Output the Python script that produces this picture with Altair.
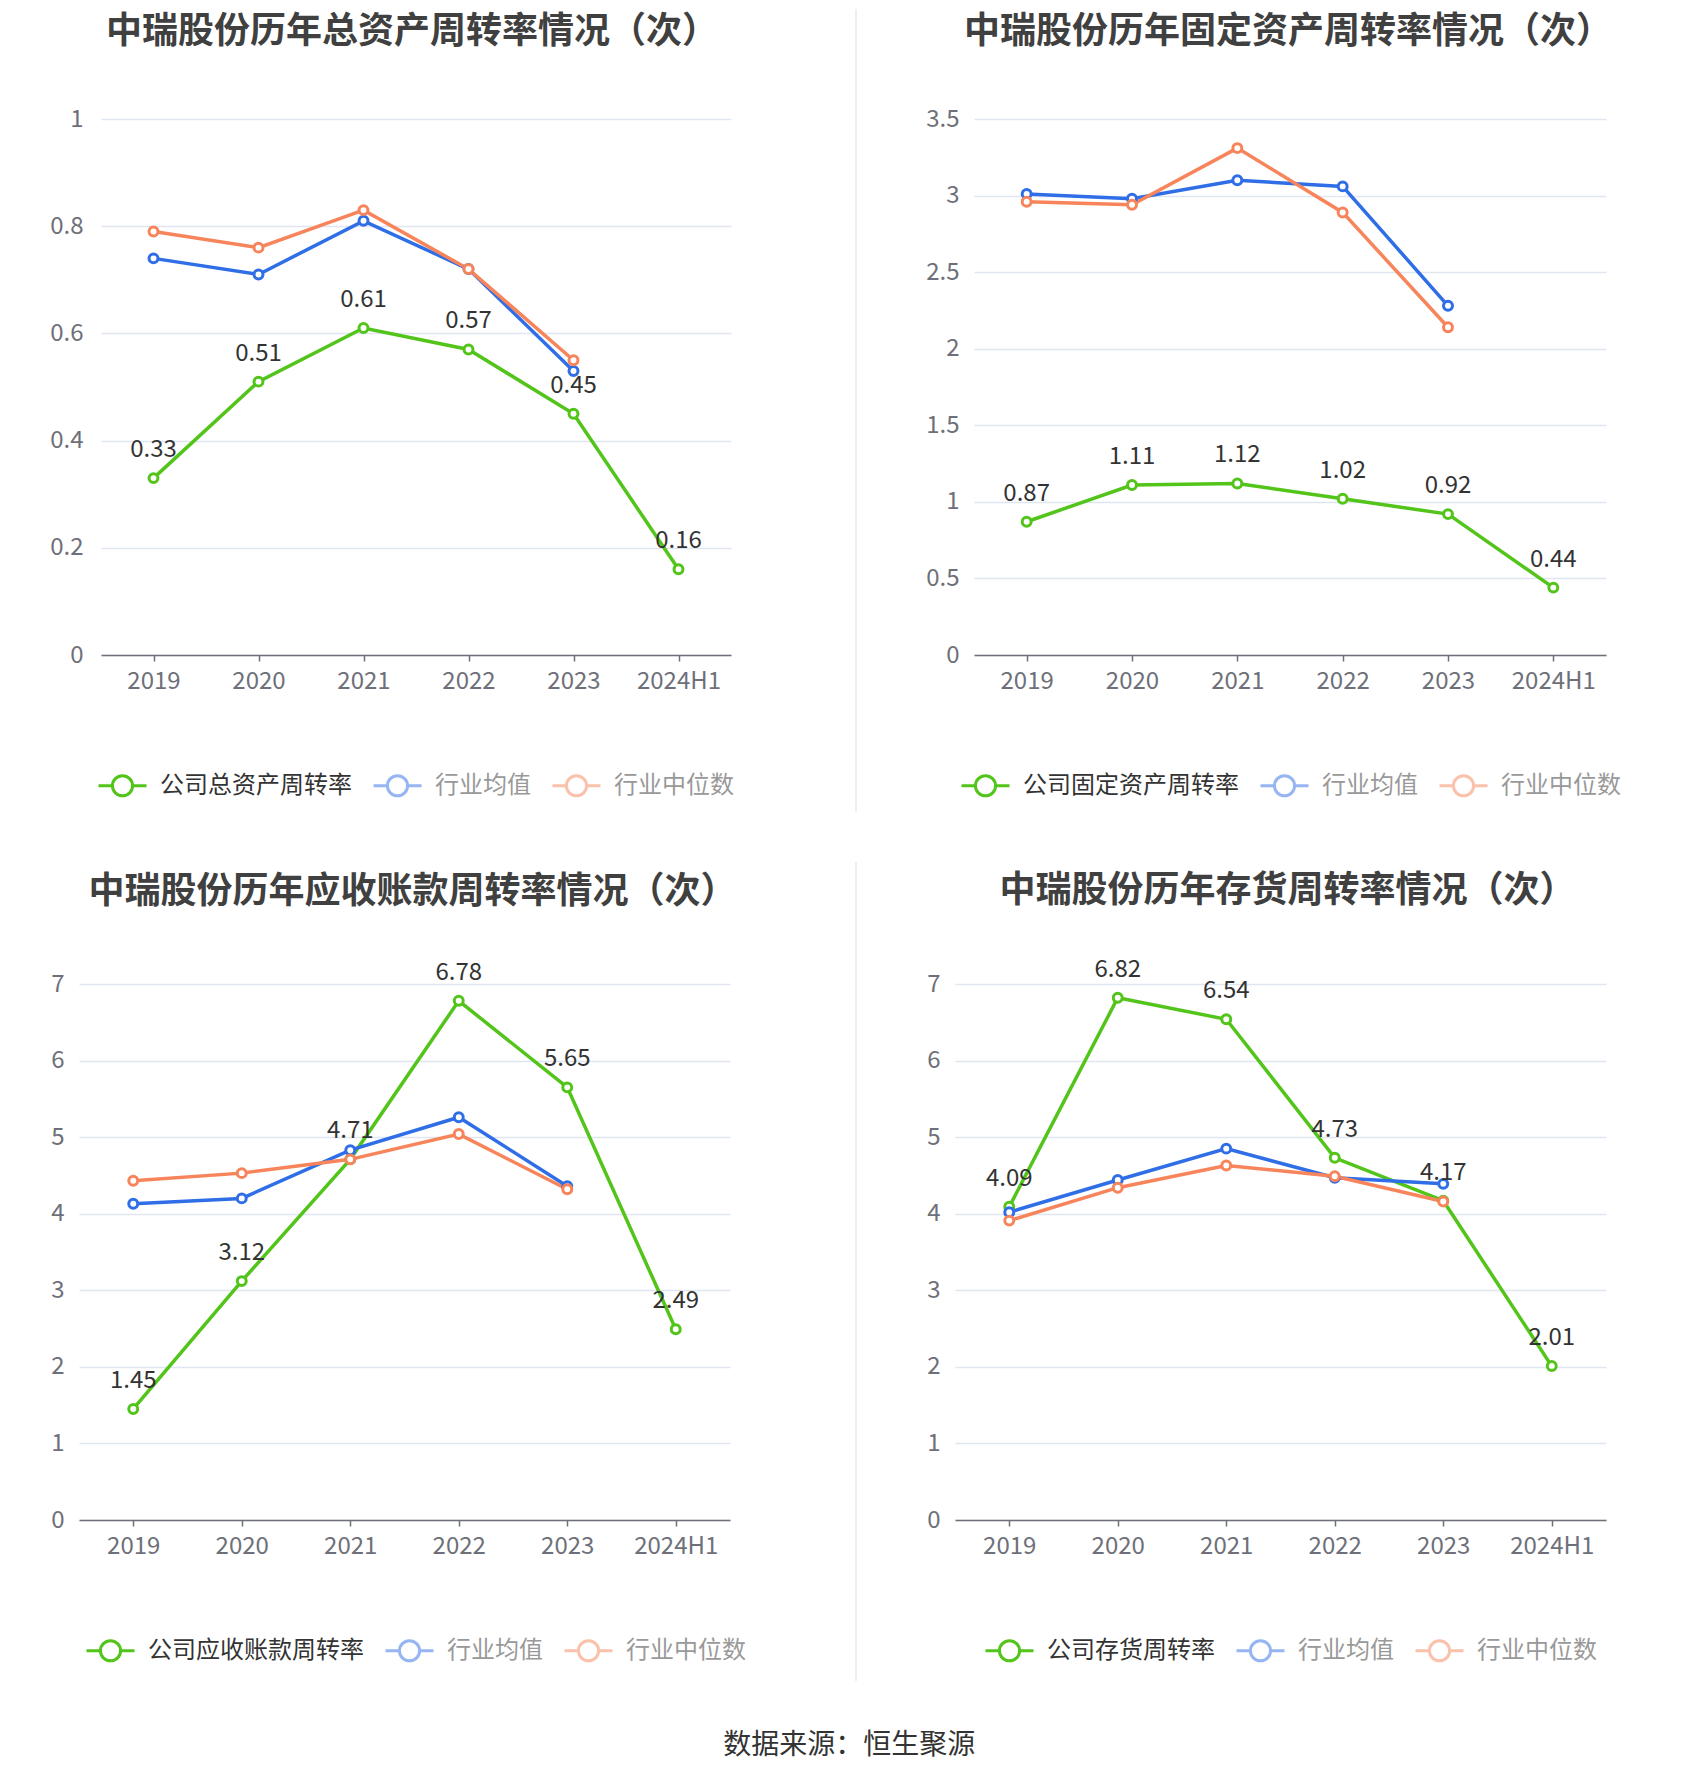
import altair as alt
import pandas as pd

FONT = "Noto Sans CJK SC"
GREEN = "#52c41a"
BLUE = "#2f6ee6"
ORANGE = "#f7845a"
COLORS = [GREEN, BLUE, ORANGE]

years = ["2019", "2020", "2021", "2022", "2023", "2024H1"]
MEAN = "行业均值"
MED = "行业中位数"

titles = [
    "中瑞股份历年总资产周转率情况（次）",
    "中瑞股份历年固定资产周转率情况（次）",
    "中瑞股份历年应收账款周转率情况（次）",
    "中瑞股份历年存货周转率情况（次）",
]
company_names = ["公司总资产周转率", "公司固定资产周转率", "公司应收账款周转率", "公司存货周转率"]

total_company = [0.33, 0.51, 0.61, 0.57, 0.45, 0.16]
total_mean = [0.74, 0.71, 0.81, 0.72, 0.53]
total_median = [0.79, 0.76, 0.83, 0.72, 0.55]

fixed_company = [0.87, 1.11, 1.12, 1.02, 0.92, 0.44]
fixed_mean = [3.01, 2.98, 3.10, 3.06, 2.28]
fixed_median = [2.96, 2.94, 3.31, 2.89, 2.14]

recv_company = [1.45, 3.12, 4.71, 6.78, 5.65, 2.49]
recv_mean = [4.13, 4.20, 4.83, 5.26, 4.36]
recv_median = [4.43, 4.53, 4.71, 5.04, 4.32]

inv_company = [4.09, 6.82, 6.54, 4.73, 4.17, 2.01]
inv_mean = [4.02, 4.44, 4.85, 4.47, 4.39]
inv_median = [3.91, 4.34, 4.63, 4.49, 4.16]

ticks_total = [0, 0.2, 0.4, 0.6, 0.8, 1]
ticks_fixed = [0, 0.5, 1, 1.5, 2, 2.5, 3, 3.5]
ticks_seven = [0, 1, 2, 3, 4, 5, 6, 7]

SYM = "M-1,0L-0.42,0M0.42,0L1,0M-0.42,0A0.42,0.42,0,1,1,0.42,0A0.42,0.42,0,1,1,-0.42,0"
PH = 536


def make_panel(title, cname, comp, mean, med, ymax, yvals, width, title_dx, title_offset,
               legend_x, label_pad):
    rows = []
    for s, vals in [(cname, comp), (MEAN, mean), (MED, med)]:
        for yr, v in zip(years, vals):
            rows.append({"year": yr, "series": s, "value": v})
    df = pd.DataFrame(rows)
    lab = pd.DataFrame({"year": years, "value": comp, "label": [f"{v:.2f}" for v in comp]})
    domain = [cname, MEAN, MED]
    cs = alt.Scale(domain=domain, range=COLORS)
    xaxis = alt.Axis(title=None, labelFont=FONT, labelFontSize=24, labelColor="#6e7079",
                     labelPadding=8, tickSize=6, tickColor="#6e7079", tickWidth=1.5,
                     domainColor="#6e7079", domainWidth=1.5, grid=False, labelAngle=0, zindex=1)
    yaxis = alt.Axis(title=None, values=yvals, format="~g", labelFont=FONT, labelFontSize=24,
                     labelColor="#6e7079", labelPadding=label_pad, ticks=False, domain=False,
                     gridColor="#e0e6f1", gridWidth=1.5, zindex=0)
    x = alt.X("year:N", sort=years, scale=alt.Scale(type="point", padding=0.5, domain=years), axis=xaxis)
    y = alt.Y("value:Q", scale=alt.Scale(domain=[0, ymax], nice=False), axis=yaxis)
    legend = alt.Legend(
        title=None, orient="none", legendX=legend_x, legendY=641, direction="horizontal",
        symbolType=SYM, symbolSize=2304, symbolStrokeWidth=3,
        labelFont=FONT, labelFontSize=24,
        labelColor=alt.ExprRef(f"datum.value == '{cname}' ? '#333333' : '#999999'"),
        symbolOpacity=alt.ExprRef(f"datum.value == '{cname}' ? 1 : 0.5"),
        columnPadding=15, labelOffset=12, labelLimit=400,
    )
    lines = alt.Chart(df).mark_line(strokeWidth=3.5).encode(
        x=x, y=y, color=alt.Color("series:N", scale=cs, sort=domain, legend=legend)
    )
    points = alt.Chart(df).mark_point(filled=True, fill="white", size=80, strokeWidth=3, opacity=1).encode(
        x=x, y=y, stroke=alt.Stroke("series:N", scale=cs, legend=None)
    )
    labels = alt.Chart(lab).mark_text(font=FONT, fontSize=24, color="#333333", dy=-21,
                                      baseline="alphabetic", align="center").encode(
        x=x, y=y, text="label:N"
    )
    return alt.layer(lines, points, labels).properties(
        width=width, height=PH,
        title=alt.TitleParams(text=title, font=FONT, fontSize=36, fontWeight="bold", color="#404040",
                              anchor="middle", frame="group", offset=title_offset, dx=title_dx,
                              baseline="bottom"),
    ).resolve_scale(color="independent", stroke="independent")


def divider(width, xpos, y1, y2, opacity=1):
    return alt.Chart(pd.DataFrame({"d": [0]})).mark_rule(color="#eeeeee", strokeWidth=2, opacity=opacity).encode(
        x=alt.value(xpos), y=alt.value(y1), y2=alt.value(y2)
    ).properties(width=width, height=PH)


c1 = make_panel(titles[0], company_names[0], total_company, total_mean, total_median, 1, ticks_total,
                630, -4, 20, -4, 18)
c2 = make_panel(titles[1], company_names[1], fixed_company, fixed_mean, fixed_median, 3.5, ticks_fixed,
                632, -2, 20, -14, 15)
c3 = make_panel(titles[2], company_names[2], recv_company, recv_mean, recv_median, 7, ticks_seven,
                651, 8, 14, 6, 15)
c4 = make_panel(titles[3], company_names[3], inv_company, inv_mean, inv_median, 7, ticks_seven,
                651, 7, 12, 29, 15)

res = dict(x="independent", y="independent", color="independent", stroke="independent")

spacer = divider(13, 0, 0, PH, opacity=0)
row1 = alt.hconcat(spacer, c1, divider(225, 116, -110, 693), c2, spacing=9, bounds="flush").resolve_scale(**res).resolve_legend(color="independent")
row2 = alt.hconcat(c3, divider(19, 23, -122, 697), c4, spacing=103, bounds="flush").resolve_scale(**res).resolve_legend(color="independent")

chart = alt.vconcat(row1, row2, spacing=48).resolve_scale(**res).resolve_legend(color="independent").properties(
    padding={"left": 41, "top": 0, "right": 5, "bottom": 5},
    background="white",
    title=alt.TitleParams(text="数据来源：恒生聚源", orient="bottom", anchor="middle", font=FONT,
                          fontSize=28, fontWeight="normal", color="#333333", offset=50,
                          baseline="top", dx=14),
).configure_view(stroke=None)

chart.save("out.html", embed_options={"renderer": "svg", "actions": False})
